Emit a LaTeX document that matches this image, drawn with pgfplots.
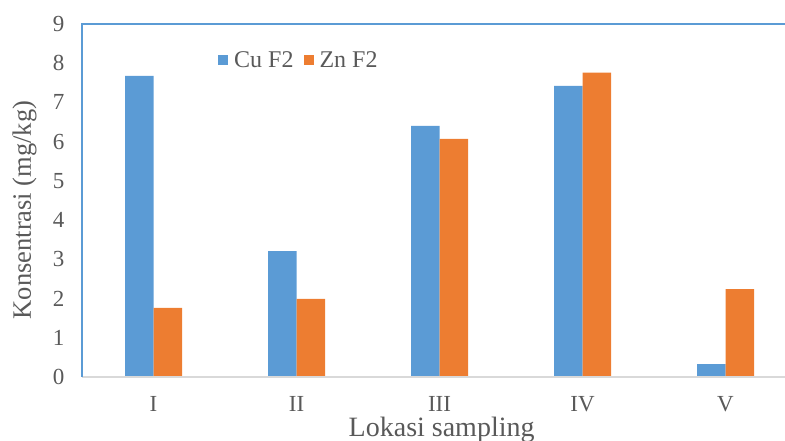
\documentclass[border=0pt]{standalone}
\usepackage{fontspec}
\setmainfont{Liberation Serif}
\usepackage{pgfplots}
\pgfplotsset{compat=1.18}
\definecolor{cublue}{HTML}{5B9BD5}
\definecolor{znorange}{HTML}{ED7D31}
\definecolor{txtgray}{HTML}{595959}
\definecolor{axgray}{HTML}{D9D9D9}
\begin{document}
\begin{tikzpicture}
\clip (0,0) rectangle (785pt,441pt);
\begin{axis}[
  at={(82pt,64pt)}, anchor=south west,
  scale only axis, width=715pt, height=353pt,
  ybar=0pt, bar width=28.5pt,
  xmin=-0.5, xmax=4.5, ymin=0, ymax=9,
  xtick={0,1,2,3,4}, xticklabels={I,II,III,IV,V},
  ytick={0,1,...,9},
  major tick length=0pt,
  axis line style={draw=none},
  clip=false,
  /pgf/number format/assume math mode=true,
  tick label style={font=\fontsize{23}{23}\selectfont, text=txtgray},
  xticklabel style={anchor=base, yshift=-35pt},
  yticklabel style={anchor=east, xshift=-14pt},
  xlabel={Lokasi sampling},
  ylabel={Konsentrasi (mg/kg)},
  every axis x label/.style={at={(rel axis cs:0.503,0)}, anchor=base, yshift=-60pt, font=\fontsize{28}{28}\selectfont, text=txtgray},
  every axis y label/.style={at={(rel axis cs:0,0.473)}, rotate=90, anchor=center, yshift=57.5pt, font=\fontsize{26.5}{26.5}\selectfont, text=txtgray},
  legend style={at={(rel axis cs:0.186,0.898)}, anchor=west, draw=none, fill=none,
    legend columns=2, font=\fontsize{24}{24}\selectfont, text=txtgray,
    /tikz/every odd column/.append style={column sep=4pt},
    /tikz/every even column/.append style={column sep=8pt}},
  legend image code/.code={\fill[#1,draw=none] (0pt,-5pt) rectangle (10pt,5pt);},
]
\addplot[fill=cublue, draw=none] coordinates {(0,7.68) (1,3.21) (2,6.40) (3,7.42) (4,0.33)};
\addlegendentry{Cu F2}
\addplot[fill=znorange, draw=none] coordinates {(0,1.76) (1,1.99) (2,6.07) (3,7.76) (4,2.24)};
\addlegendentry{Zn F2}
\draw[axgray, line width=2pt] (rel axis cs:0,0) -- (rel axis cs:1,0);
\draw[cublue, line width=1.5pt] (rel axis cs:0,0) -- (rel axis cs:0,1) -- (rel axis cs:1,1);
\end{axis}
\end{tikzpicture}
\end{document}
